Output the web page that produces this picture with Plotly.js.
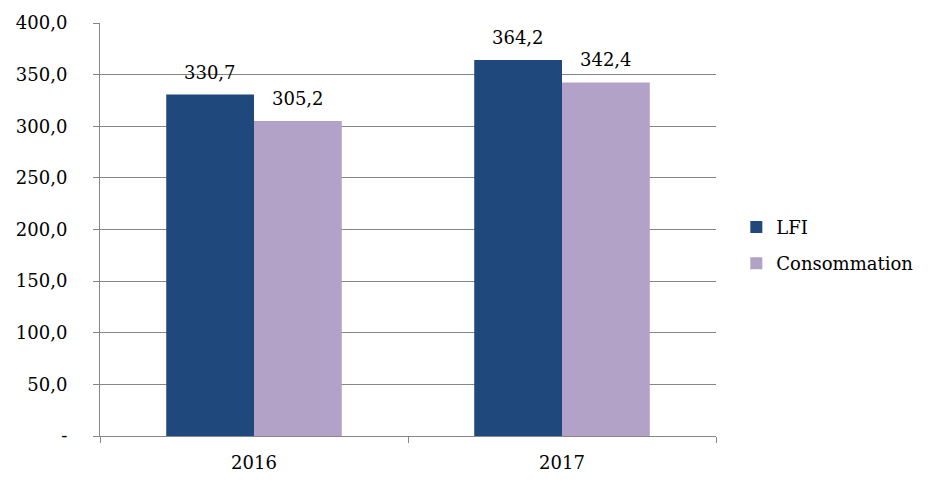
<!DOCTYPE html>
<html><head><meta charset="utf-8">
<script src="https://cdn.plot.ly/plotly-3.0.1.min.js"></script>
<style>html,body{margin:0;padding:0;background:#fff}#chart{width:930px;height:489px}</style>
</head><body><div id="chart"></div>
<script>
const categories = ["2016", "2017"];
const lfiValues = [330.7, 364.2];
const consValues = [305.2, 342.4];
const seriesNames = ["LFI", "Consommation"];
const yTickVals = [0, 50, 100, 150, 200, 250, 300, 350, 400];
const yTickText = ["-", "50,0", "100,0", "150,0", "200,0", "250,0", "300,0", "350,0", "400,0"];

const FONT = "DejaVu Serif";
const fmt = v => v.toFixed(1).replace(".", ",");
const traces = [
  {type: "bar", x: categories, y: lfiValues, name: seriesNames[0], legendgroup: "a",
   marker: {color: "#1F497D"}, hoverinfo: "none"},
  {type: "bar", x: categories, y: consValues, name: seriesNames[1], legendgroup: "b",
   marker: {color: "#B3A2C7"}, hoverinfo: "none"}
];
const annotations = [];
[[lfiValues, -44], [consValues, 44]].forEach(([vals, dx]) => {
  vals.forEach((v, i) => annotations.push({
    x: i, y: v, xref: "x", yref: "y", text: fmt(v), showarrow: false,
    xanchor: "center", yanchor: "bottom", xshift: dx, yshift: 10,
    font: {family: FONT, size: 18, color: "#000"}
  }));
});
const layout = {
  width: 930, height: 489,
  margin: {l: 100, r: 214, t: 23, b: 53},
  font: {family: FONT, size: 18, color: "#000"},
  paper_bgcolor: "#fff", plot_bgcolor: "#fff",
  barmode: "group", bargap: 0.43, bargroupgap: 0,
  showlegend: true,
  annotations: annotations,
  legend: {x: 1.033, y: 0.462, xanchor: "left", yanchor: "middle", tracegroupgap: 10,
           font: {family: FONT, size: 18, color: "#000"}, itemwidth: 30},
  xaxis: {type: "category", range: [-0.5, 1.5], showline: true, linecolor: "#868686", linewidth: 1,
          ticks: "outside", tickson: "boundaries", ticklen: 6, tickcolor: "#868686",
          showgrid: false, ticklabelstandoff: 10, tickangle: 0, fixedrange: true},
  yaxis: {range: [0, 400], tickvals: yTickVals, ticktext: yTickText,
          showline: true, linecolor: "#868686", linewidth: 1,
          ticks: "outside", ticklen: 6, tickcolor: "#868686",
          showgrid: true, gridcolor: "#868686", gridwidth: 1, zeroline: false,
          ticklabelstandoff: 22, fixedrange: true}
};
Plotly.newPlot("chart", traces, layout, {displayModeBar: false, staticPlot: true});
</script></body></html>
